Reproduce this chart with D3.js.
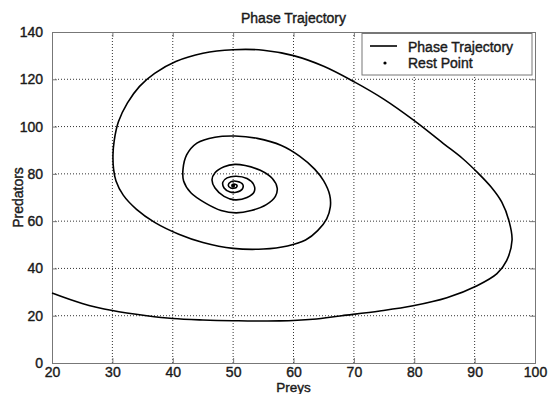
<!DOCTYPE html>
<html>
<head>
<meta charset="utf-8">
<script src="https://cdn.jsdelivr.net/npm/d3@7/dist/d3.min.js"></script>
<style>
  body { margin: 0; background: #fff; }
  svg { display: block; font-family: "Liberation Sans", Arial, sans-serif; }
  text { font-size: 14px; fill: #1a1a1a; stroke: #1a1a1a; stroke-width: 0.4px; }
</style>
</head>
<body>
<svg id="chart"></svg>
<script>
// data ---------------------------------------------------------
const preys = [20, 25, 30, 35.7, 40, 45, 50, 57.7, 63.2, 68, 74.3, 79.8, 85.4, 90.4, 93.7, 95.3, 96.2, 95.7,
  94.5, 92.7, 90.5, 88, 85, 80, 75, 70, 65, 60, 55, 50, 45, 40.5, 37, 34.5, 32.5, 31, 30.3, 30.1,
  30.2, 30.6, 31.8, 34, 37, 41, 45, 50, 55, 59, 62, 64, 65.5, 66.1, 66, 65, 63.5, 61, 58, 54, 50.3, 47,
  44, 42.3, 41.7, 41.8, 43, 45.5, 48, 50.5, 53, 55.5, 57, 57.3, 56.5, 54.5, 52, 50.3, 48.5, 47, 46.5,
  47, 48.5, 50.3, 52.3, 53.5, 53.4, 52.3, 50.5, 49, 48.3, 48.5, 49.5, 50.5, 51.5, 51.6, 50.7, 49.6,
  49.2, 49.6, 50.5, 50.6, 50, 49.8];
const predators = [29.6, 25.2, 22.2, 20, 18.8, 18.2, 17.9, 17.8, 18.5, 20, 22, 24.2, 27.6, 32.7, 37.8, 43.3, 52, 60,
  68, 74.5, 80.5, 86.5, 92.5, 102.5, 111.5, 119, 125.5, 130, 132.3, 132.5, 131, 127.5, 122.5, 117, 110, 102, 94, 88,
  82, 77, 71, 65, 59.5, 54.5, 51, 48.5, 48.2, 49.5, 52, 56, 61, 66, 71, 77, 82, 87.5, 92, 95, 96, 95.5,
  93, 88, 82, 77, 72, 67.5, 64.5, 63.5, 64.5, 67, 70.5, 74, 78, 81.5, 83.5, 84, 83, 80.5, 77.5,
  74, 70.5, 69, 70, 72.5, 75.5, 78, 79, 78.3, 76.5, 74, 72.3, 72.2, 73.5, 75.5, 76.8, 76.6,
  75.2, 74, 74.2, 75.3, 75.6, 75];
const restPrey = [50];
const restPredator = [75];
const xTickValues = [20, 30, 40, 50, 60, 70, 80, 90, 100];
const yTickValues = [0, 20, 40, 60, 80, 100, 120, 140];
const legendLabels = ['Phase Trajectory', 'Rest Point'];
// --------------------------------------------------------------

const W = 554, H = 394;
const margin = { top: 32, right: 19, bottom: 31, left: 52 };
const width = W - margin.left - margin.right;
const height = H - margin.top - margin.bottom;

const svg = d3.select('#chart').attr('width', W).attr('height', H);
svg.append('rect').attr('width', W).attr('height', H).attr('fill', '#fff');

const g = svg.append('g').attr('transform', 'translate(' + margin.left + ',' + margin.top + ')');

const x = d3.scaleLinear().domain([20, 100]).range([0, width]);
const y = d3.scaleLinear().domain([0, 140]).range([height, 0]);

// grid
g.append('g').selectAll('line').data(xTickValues.slice(1, -1)).join('line')
  .attr('x1', d => x(d)).attr('x2', d => x(d)).attr('y1', 0).attr('y2', height)
  .attr('stroke', '#333').attr('stroke-dasharray', '1,2');
g.append('g').selectAll('line').data(yTickValues.slice(1, -1)).join('line')
  .attr('y1', d => y(d)).attr('y2', d => y(d)).attr('x1', 0).attr('x2', width)
  .attr('stroke', '#333').attr('stroke-dasharray', '1,2');

// axes, ticks inward like matlab
g.append('g').attr('transform', 'translate(0,' + height + ')')
  .call(d3.axisBottom(x).tickValues(xTickValues).tickSize(-5).tickPadding(4));
g.append('g')
  .call(d3.axisLeft(y).tickValues(yTickValues).tickSize(-5).tickPadding(9));
g.append('g').call(d3.axisTop(x).tickValues(xTickValues).tickSize(-5).tickFormat(''));
g.append('g').attr('transform', 'translate(' + width + ',0)')
  .call(d3.axisRight(y).tickValues(yTickValues).tickSize(-5).tickFormat(''));
g.selectAll('.domain').attr('stroke', '#777');
g.selectAll('.tick line').attr('stroke', '#777');
g.selectAll('.tick text').attr('font-size', null).attr('font-family', null).attr('fill', null);

// trajectory
const pts = preys.map((p, i) => [p, predators[i]]);
const line = d3.line().x(d => x(d[0])).y(d => y(d[1])).curve(d3.curveCatmullRom.alpha(0.5));
g.append('path').datum(pts).attr('d', line)
  .attr('fill', 'none').attr('stroke', '#000').attr('stroke-width', 1.6);

// rest point
g.selectAll('circle.rest').data(restPrey).join('circle').attr('class', 'rest')
  .attr('cx', d => x(d)).attr('cy', (d, i) => y(restPredator[i])).attr('r', 2).attr('fill', '#000');

// titles
svg.append('text').attr('x', margin.left + width / 2).attr('y', 23).attr('text-anchor', 'middle')
  .text('Phase Trajectory');
svg.append('text').attr('x', margin.left + width / 2).attr('y', 391.5).attr('text-anchor', 'middle')
  .style('font-size', '13.5px').text('Preys');
svg.append('text').attr('transform', 'translate(23,' + (margin.top + height / 2) + ') rotate(-90)')
  .attr('text-anchor', 'middle').text('Predators');

// legend
const lg = svg.append('g').attr('transform', 'translate(362,33.5)');
lg.append('rect').attr('width', 170).attr('height', 41.5).attr('fill', '#fff').attr('stroke', '#777');
lg.append('line').attr('x1', 8).attr('x2', 35).attr('y1', 12.5).attr('y2', 12.5).attr('stroke', '#000').attr('stroke-width', 1.6);
lg.append('circle').attr('cx', 23).attr('cy', 29.5).attr('r', 1.6).attr('fill', '#000');
lg.selectAll('text.lab').data(legendLabels).join('text').attr('class', 'lab')
  .attr('x', 46).attr('y', (d, i) => 18 + i * 16.5).text(d => d);
</script>
</body>
</html>
